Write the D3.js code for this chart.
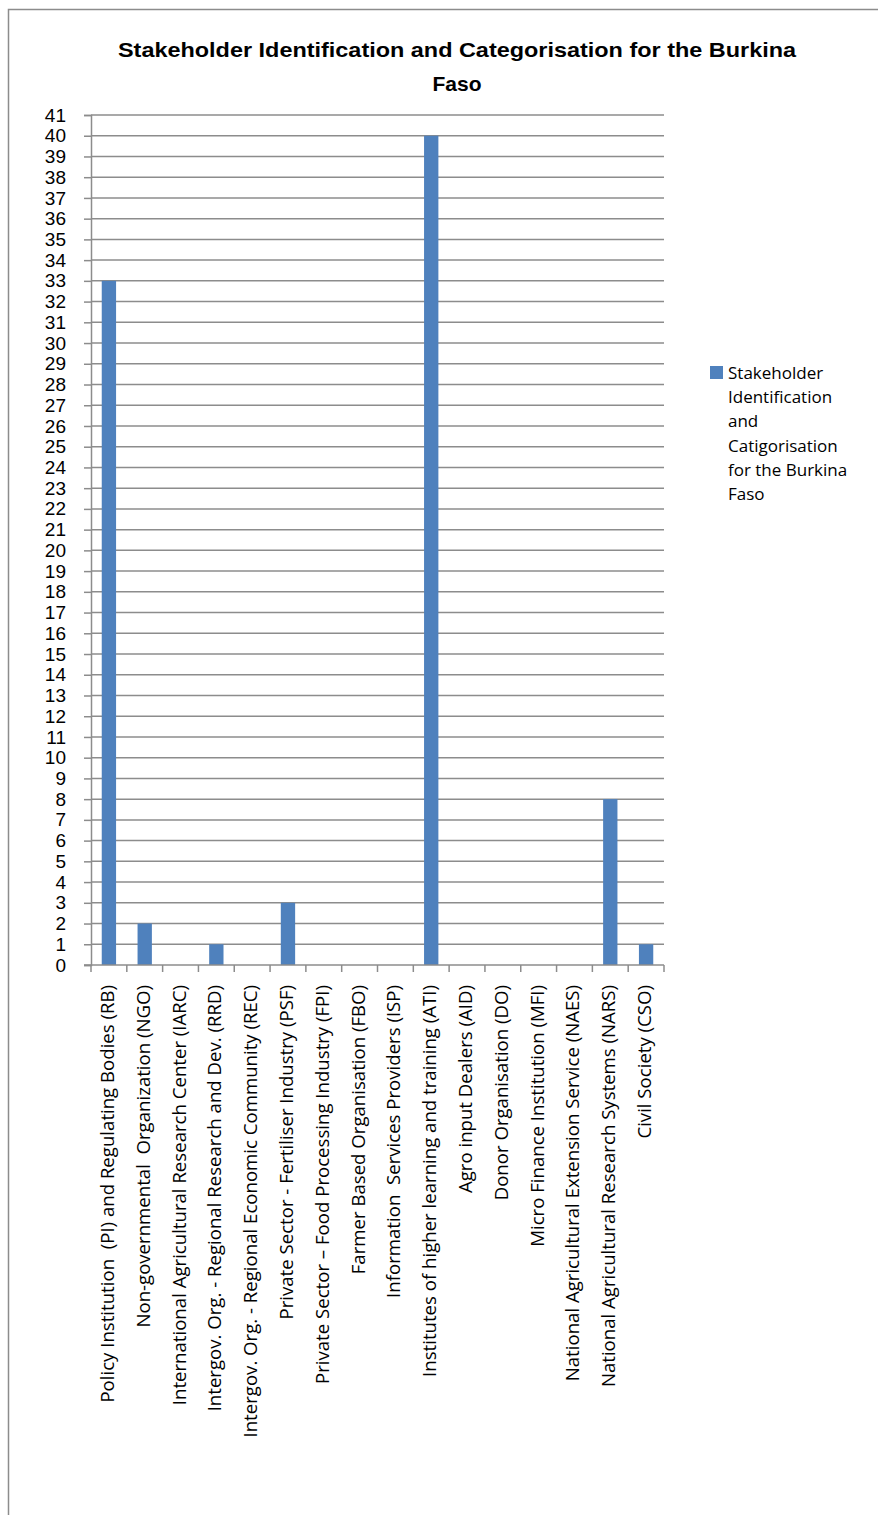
<!DOCTYPE html>
<html>
<head>
<meta charset="utf-8">
<script src="https://cdn.jsdelivr.net/npm/d3@7"></script>
<style>
  html, body { margin: 0; padding: 0; background: #fff; }
  svg { display: block; }
</style>
</head>
<body>
<svg id="chart" width="878" height="1515"></svg>
<script>
// Stakeholder counts per category
const categories = [
  "Policy Institution  (PI) and Regulating Bodies (RB)",
  "Non-governmental  Organization (NGO)",
  "International Agricultural Research Center (IARC)",
  "Intergov. Org. - Regional Research and Dev. (RRD)",
  "Intergov. Org. - Regional Economic Community (REC)",
  "Private Sector - Fertiliser Industry (PSF)",
  "Private Sector \u2013 Food Processing Industry (FPI)",
  "Farmer Based Organisation (FBO)",
  "Information  Services Providers (ISP)",
  "Institutes of higher learning and training (ATI)",
  "Agro input Dealers (AID)",
  "Donor Organisation (DO)",
  "Micro Finance Institution (MFI)",
  "National Agricultural Extension Service (NAES)",
  "National Agricultural Research Systems (NARS)",
  "Civil Society (CSO)"
];
const values = [33, 2, 0, 1, 0, 3, 0, 0, 0, 40, 0, 0, 0, 0, 8, 1];
const yTicks = d3.range(0, 42);
const titleLines = ["Stakeholder Identification and Categorisation for the Burkina", "Faso"];
const legendLines = ["Stakeholder", "Identification", "and", "Catigorisation", "for the Burkina", "Faso"];

const svg = d3.select("#chart");
const gridColor = "#8c8c8c";
const barColor = "#4f81bd";

// outer chart frame
svg.append("rect")
  .attr("x", 8.5).attr("y", 9.5)
  .attr("width", 1000).attr("height", 1600)
  .attr("fill", "none").attr("stroke", "#8c8c8c").attr("stroke-width", 1.5);

const plot = { left: 91, right: 664, top: 115, bottom: 965 };

const x = d3.scaleBand()
  .domain(categories)
  .range([plot.left, plot.right])
  .paddingInner(0.6)
  .paddingOuter(0.3);

const y = d3.scaleLinear()
  .domain([0, 41])
  .range([plot.bottom, plot.top]);

// horizontal gridlines
svg.append("g")
  .selectAll("line")
  .data(yTicks.filter(d => d > 0))
  .join("line")
  .attr("x1", plot.left).attr("x2", plot.right)
  .attr("y1", d => y(d)).attr("y2", d => y(d))
  .attr("stroke", gridColor).attr("stroke-width", 1.5);

// y axis
const yAxis = svg.append("g")
  .attr("transform", `translate(${plot.left},0)`)
  .call(d3.axisLeft(y).tickValues(yTicks).tickSize(7).tickPadding(18).tickFormat(d3.format("d")));
yAxis.select(".domain").attr("stroke", gridColor).attr("stroke-width", 1.5);
yAxis.selectAll(".tick line").attr("stroke", gridColor).attr("stroke-width", 1.5);
yAxis.selectAll(".tick text")
  .attr("font-family", "'Liberation Sans', Arial, sans-serif")
  .attr("font-size", 19)
  .attr("fill", "#000");

// bars
svg.append("g")
  .selectAll("rect")
  .data(values)
  .join("rect")
  .attr("x", (d, i) => x(categories[i]))
  .attr("width", x.bandwidth())
  .attr("y", d => y(d))
  .attr("height", d => y(0) - y(d))
  .attr("fill", barColor);

// x axis with boundary ticks between categories
const xBase = svg.append("g").attr("transform", `translate(0,${plot.bottom})`);
xBase.append("line")
  .attr("x1", plot.left - 7).attr("x2", plot.right)
  .attr("stroke", gridColor).attr("stroke-width", 1.5);
xBase.selectAll("line.bt")
  .data(d3.range(categories.length + 1))
  .join("line")
  .attr("class", "bt")
  .attr("x1", i => plot.left + i * (plot.right - plot.left) / categories.length)
  .attr("x2", i => plot.left + i * (plot.right - plot.left) / categories.length)
  .attr("y1", 0).attr("y2", 7)
  .attr("stroke", gridColor).attr("stroke-width", 1.5);

// rotated category labels
const labelFont = "'Open Sans', 'Noto Sans', sans-serif";
const labels = svg.append("g")
  .selectAll("text")
  .data(categories)
  .join("text")
  .attr("transform", d => `translate(${x(d) + x.bandwidth() / 2 + 5},${plot.bottom + 20}) rotate(-90)`)
  .attr("text-anchor", "end")
  .attr("font-family", labelFont)
  .attr("font-size", 15)
  .attr("fill", "#000")
  .style("white-space", "pre")
  .text(d => d);
// size the labels so the longest one spans its measured length
const longest = labels.nodes()[0].getComputedTextLength();
labels.attr("font-size", 15 * 418 / longest);

// title
svg.append("g")
  .selectAll("text")
  .data(titleLines)
  .join("text")
  .attr("x", 457)
  .attr("y", (d, i) => 57 + i * 34)
  .attr("text-anchor", "middle")
  .attr("font-family", "'Liberation Sans Narrow', 'Liberation Sans', Arial, sans-serif")
  .attr("font-weight", "bold")
  .attr("font-size", 21)
  .attr("fill", "#000")
  .each(function (d, i) {
    if (i === 0) {
      d3.select(this).attr("textLength", 678).attr("lengthAdjust", "spacingAndGlyphs");
    }
  })
  .text(d => d);

// legend
const legend = svg.append("g");
legend.append("rect")
  .attr("x", 710).attr("y", 366)
  .attr("width", 13).attr("height", 13)
  .attr("fill", barColor);
legend.selectAll("text")
  .data(legendLines)
  .join("text")
  .attr("x", 728)
  .attr("y", (d, i) => 379 + i * 24.2)
  .attr("font-family", labelFont)
  .attr("font-size", 17)
  .attr("fill", "#000")
  .text(d => d);
</script>
</body>
</html>
